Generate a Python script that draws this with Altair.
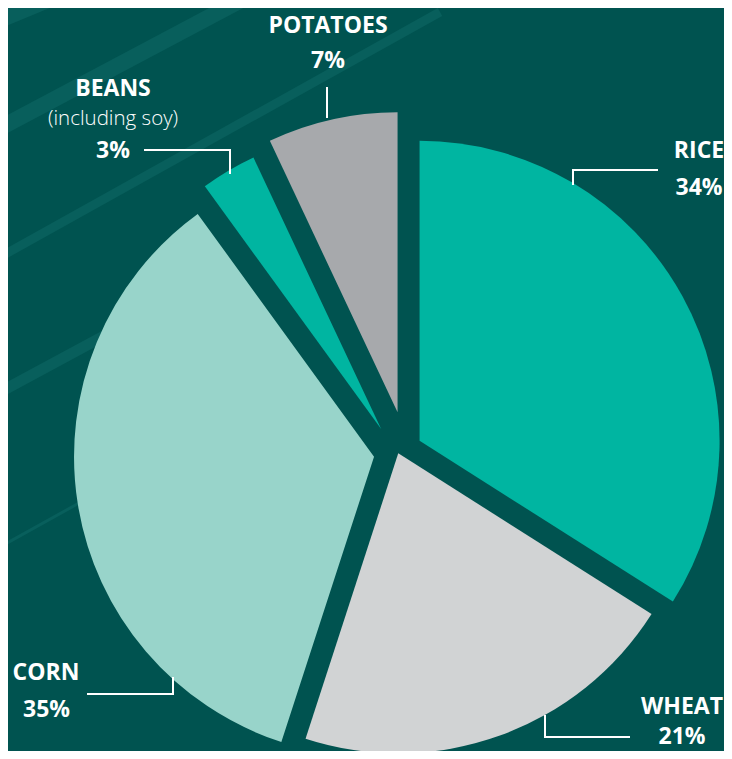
import altair as alt
import pandas as pd
import numpy as np

# ---------------- data ----------------
crops = ["RICE", "WHEAT", "CORN", "BEANS", "POTATOES"]
shares = [34, 21, 35, 3, 7]
pct_labels = ["34%", "21%", "35%", "3%", "7%"]
slice_colors = ["#00b5a1", "#d1d3d4", "#98d4ca", "#00b5a1", "#a7a9ac"]

# ---------------- style / layout ----------------
BG = "#005350"
STRIPE = "#085f5c"
W, H = 716, 743            # plot area (page has 8px margin)
X_DOM = [8, 8 + W]         # work in window pixel coordinates
Y_DOM = [8, 8 + H]
CENTER = (396.0, 445.0)
RADIUS = 300
GAP = 22                   # constant gap between exploded slices
FONT = "Open Sans"

# exploded-pie offsets: area-weighted least-norm translations giving a constant gap
total = float(sum(shares))
frac = np.array(shares) / total
ends = np.cumsum(frac) * 2 * np.pi
n = len(shares)
A = np.zeros((n, 2 * n))
for k in range(n):
    phi = ends[k]
    nx, ny = np.cos(phi), np.sin(phi)
    j = (k + 1) % n
    A[k, 2 * j] += nx
    A[k, 2 * j + 1] += ny
    A[k, 2 * k] -= nx
    A[k, 2 * k + 1] -= ny
wts = np.repeat(np.array(shares, dtype=float) + 5.0, 2)
Winv = np.diag(1.0 / wts)
lam = np.linalg.solve(A @ Winv @ A.T, GAP * np.ones(n))
t = Winv @ A.T @ lam

cum = np.cumsum(shares)
pie_df = pd.DataFrame({
    "crop": crops,
    "share": shares,
    "start": cum - np.array(shares),
    "end": cum,
    "cx": CENTER[0] + t[0::2],
    "cy": CENTER[1] + t[1::2],
})

xs = alt.Scale(domain=X_DOM, nice=False, zero=False)
ys = alt.Scale(domain=Y_DOM, nice=False, zero=False, reverse=True)

# background stripes (decorative)
stripe_df = pd.DataFrame({
    "x": [0, 0, 0, 0, 0],
    "y": [20, 128, 257, 392, 547],
    "x2": [60, 245, 440, 230, 160],
    "y2": [-5, -2, 12, 268, 458],
    "w": [16, 16, 9, 11, 3],
})
stripes = alt.Chart(stripe_df).mark_rule(color=STRIPE, strokeCap="butt").encode(
    x=alt.X("x:Q", scale=xs, axis=None),
    y=alt.Y("y:Q", scale=ys, axis=None),
    x2="x2:Q",
    y2="y2:Q",
    strokeWidth=alt.StrokeWidth("w:Q", scale=None, legend=None),
)

pie = alt.Chart(pie_df).mark_arc(outerRadius=RADIUS, stroke=None).encode(
    x=alt.X("cx:Q", scale=xs, axis=None),
    y=alt.Y("cy:Q", scale=ys, axis=None),
    theta=alt.Theta("start:Q", scale=alt.Scale(domain=[0, 100], range=[0, 2 * np.pi]), stack=None),
    theta2="end:Q",
    color=alt.Color("crop:N", scale=alt.Scale(domain=crops, range=slice_colors), legend=None),
)

# leader lines
lead_df = pd.DataFrame({
    "crop": ["POTATOES"] * 2 + ["BEANS"] * 3 + ["RICE"] * 3 + ["CORN"] * 3 + ["WHEAT"] * 3,
    "seq": [0, 1, 0, 1, 2, 0, 1, 2, 0, 1, 2, 0, 1, 2],
    "x": [327, 327, 144, 230, 230, 658, 573, 573, 87, 173, 173, 630, 545, 545],
    "y": [87, 118, 150, 150, 174, 170, 170, 185, 694, 694, 677, 737, 737, 715],
})
leaders = alt.Chart(lead_df).mark_line(color="white", strokeWidth=2, strokeJoin="miter").encode(
    x=alt.X("x:Q", scale=xs, axis=None),
    y=alt.Y("y:Q", scale=ys, axis=None),
    detail="crop:N",
    order="seq:Q",
)

# labels
bold_df = pd.DataFrame({
    "text": ["POTATOES", pct_labels[4], "BEANS", pct_labels[3], "RICE", pct_labels[0],
             "CORN", pct_labels[2], "WHEAT", pct_labels[1]],
    "x": [328, 328, 113, 113, 699, 699, 46, 46.5, 682, 682],
    "y": [33, 68, 96, 158, 158, 195, 680, 717, 714, 744],
})
bold = alt.Chart(bold_df).mark_text(
    font=FONT, fontSize=23, fontWeight="bold", color="white", align="center", baseline="alphabetic"
).encode(
    x=alt.X("x:Q", scale=xs, axis=None),
    y=alt.Y("y:Q", scale=ys, axis=None),
    text="text:N",
)

light_df = pd.DataFrame({"text": ["(including soy)"], "x": [113], "y": [125]})
light = alt.Chart(light_df).mark_text(
    font=FONT, fontSize=20.5, fontWeight=300, color="white", align="center", baseline="alphabetic"
).encode(
    x=alt.X("x:Q", scale=xs, axis=None),
    y=alt.Y("y:Q", scale=ys, axis=None),
    text="text:N",
)

chart = alt.layer(stripes, pie, leaders, bold, light).properties(
    width=W, height=H, padding=0, autosize=alt.AutoSizeParams(type="none"), background=BG
).configure_view(stroke=None)

chart.save("out.html", embed_options={"renderer": "svg", "actions": False})
